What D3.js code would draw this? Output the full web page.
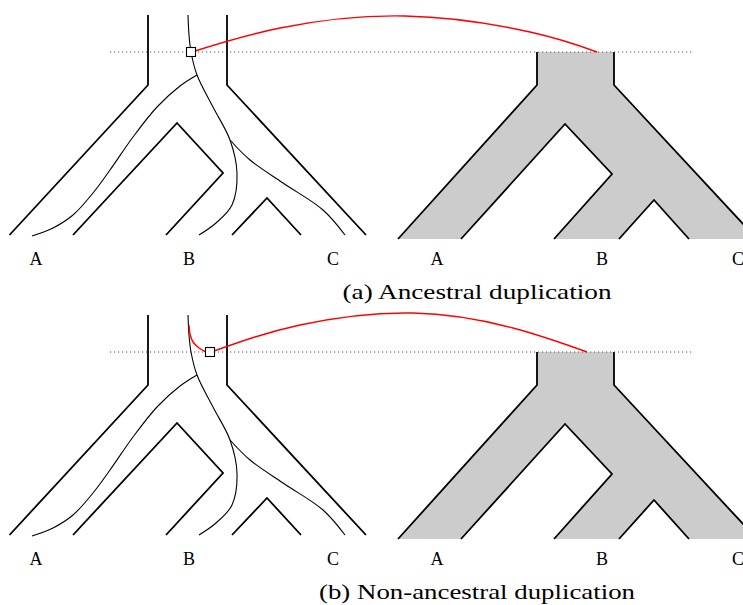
<!DOCTYPE html>
<html>
<head>
<meta charset="utf-8">
<script src="https://cdn.jsdelivr.net/npm/d3@7"></script>
<style>
  body { margin: 0; background: #fff; }
  svg { display: block; }
</style>
</head>
<body>
<div id="chart-area"></div>
<script>
var width = 743, height = 605;

// panel offsets (a) and (b)
var panelOffsets = [0, 300];
var captions = ["(a) Ancestral duplication", "(b) Non-ancestral duplication"];
var captionWidths = [269, 316];

// leaf labels
var leafNames = ["A", "B", "C"];
var leafXLeft = [36, 189, 333];
var leafXRight = [437, 602, 738];

// species tree strokes, left panel (coordinates)
var leftOuterA = [[148, 15], [148, 85], [9.5, 235]];
var leftOuterC = [[227, 15], [227, 85], [366, 235]];
var leftNotchAB = [[73, 235], [177, 123], [223, 173], [166, 235]];
var leftNotchBC = [[232, 235], [267, 198], [301, 235]];

// species tree, right panel (shaded)
var rightOuterA = [[537, 52], [537, 85], [398, 239]];
var rightOuterC = [[614, 52], [614, 85], [757, 239]];
var rightNotchAB = [[461, 239], [565, 124], [612, 174], [554, 239]];
var rightNotchBC = [[619, 239], [654, 200], [689, 239]];

// gene tree
var geneMain = [[188, 15], [189, 35], [191, 52], [197, 75], [213, 107], [230, 140],
                [237, 173], [232, 205], [216, 223], [199, 235]];
var geneA = [[197, 75], [180, 86], [157, 107], [133, 137], [110, 170], [93, 193],
             [73, 215], [53, 228], [32, 236]];
var geneC = [[230, 140], [250, 160], [283, 183], [323, 210], [345, 235]];

// duplication marker and mapping curves
var boxPos = [[191, 52], [210, 52]];
var redA = [[195, 51], [280, 28], [405, 16], [530, 32], [597, 52]];
var redB = [[214, 51], [300, 25], [413, 13], [513, 28], [587, 52]];
var redBStub = [[189, 25], [190, 34], [193, 42], [199, 48], [206, 52]];

var dupLevel = 52;
var dotted = [110, 693];

var svg = d3.select("#chart-area")
    .append("svg")
    .attr("width", width)
    .attr("height", height);

var x = d3.scaleLinear().domain([0, width]).range([0, width]);

var serif = "'Liberation Serif', 'DejaVu Serif', serif";

panelOffsets.forEach(function (off, i) {
    var y = d3.scaleLinear().domain([0, 300]).range([off, off + 300]);

    var straight = d3.line()
        .x(function (d) { return x(d[0]) })
        .y(function (d) { return y(d[1]) });
    var smooth = d3.line()
        .x(function (d) { return x(d[0]) })
        .y(function (d) { return y(d[1]) })
        .curve(d3.curveCatmullRom.alpha(0.5));
    var arc = d3.line()
        .x(function (d) { return x(d[0]) })
        .y(function (d) { return y(d[1]) })
        .curve(d3.curveNatural);

    var g = svg.append("g");

    // SHADED SPECIES TREE (RIGHT)
    var poly = [].concat(rightOuterA, rightNotchAB, rightNotchBC, rightOuterC.slice().reverse());
    g.append("path")
        .attr("d", straight(poly) + "Z")
        .attr("fill", "#cccccc")
        .attr("stroke", "none");

    [rightOuterA, rightOuterC, rightNotchAB, rightNotchBC].forEach(function (pts) {
        g.append("path")
            .attr("d", straight(pts))
            .attr("fill", "none")
            .attr("stroke", "#000")
            .attr("stroke-width", 1.8)
            .attr("stroke-linejoin", "miter");
    });

    // DOTTED LEVEL
    g.append("line")
        .attr("x1", x(dotted[0]))
        .attr("x2", x(dotted[1]))
        .attr("y1", y(dupLevel))
        .attr("y2", y(dupLevel))
        .attr("stroke", "#555")
        .attr("stroke-width", 1)
        .attr("stroke-dasharray", "1.2,2.8");

    // SPECIES TREE OUTLINE (LEFT)
    [leftOuterA, leftOuterC, leftNotchAB, leftNotchBC].forEach(function (pts) {
        g.append("path")
            .attr("d", straight(pts))
            .attr("fill", "none")
            .attr("stroke", "#000")
            .attr("stroke-width", 1.8)
            .attr("stroke-linejoin", "miter");
    });

    // GENE TREE
    [geneMain, geneA, geneC].forEach(function (pts) {
        g.append("path")
            .attr("d", smooth(pts))
            .attr("fill", "none")
            .attr("stroke", "#000")
            .attr("stroke-width", 1.1);
    });

    // RED MAPPING
    if (i === 1) {
        g.append("path")
            .attr("d", smooth(redBStub))
            .attr("fill", "none")
            .attr("stroke", "#ff0000")
            .attr("stroke-width", 1.4);
    }
    g.append("path")
        .attr("d", arc(i === 0 ? redA : redB))
        .attr("fill", "none")
        .attr("stroke", "#ff0000")
        .attr("stroke-width", 1.4);

    // DUPLICATION BOX
    var bs = 9;
    g.append("rect")
        .attr("x", x(boxPos[i][0]) - bs / 2)
        .attr("y", y(boxPos[i][1]) - bs / 2)
        .attr("width", bs)
        .attr("height", bs)
        .attr("fill", "#fff")
        .attr("stroke", "#000")
        .attr("stroke-width", 1.1);

    // LEAF LABELS
    leafNames.forEach(function (name, j) {
        [leafXLeft[j], leafXRight[j]].forEach(function (lx) {
            g.append("text")
                .attr("x", x(lx))
                .attr("y", y(265))
                .attr("text-anchor", "middle")
                .attr("font-family", serif)
                .attr("font-size", "18px")
                .text(name);
        });
    });

    // CAPTION
    g.append("text")
        .attr("x", x(477))
        .attr("y", y(299))
        .attr("text-anchor", "middle")
        .attr("font-family", serif)
        .attr("font-size", "22px")
        .attr("textLength", captionWidths[i])
        .attr("lengthAdjust", "spacingAndGlyphs")
        .text(captions[i]);
});
</script>
</body>
</html>
